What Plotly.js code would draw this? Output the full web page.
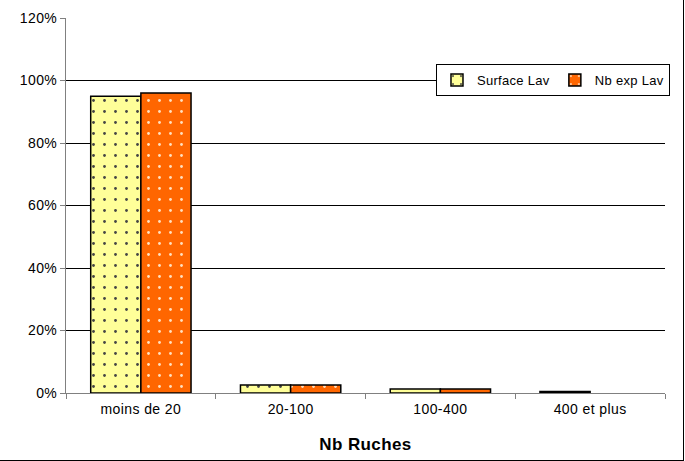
<!DOCTYPE html>
<html>
<head>
<meta charset="utf-8">
<script src="https://cdn.plot.ly/plotly-3.0.1.min.js"></script>
<style>
html,body{margin:0;padding:0;background:#fff;}
#wrap{position:relative;width:685px;height:461px;}
#chart{width:685px;height:461px;}
#frame{position:absolute;left:0;top:0;width:683px;height:460px;border-right:1px solid #000;border-bottom:1px solid #000;pointer-events:none;}
.xtick text, .ytick text {letter-spacing: 0.4px;}
.legendtext {letter-spacing: 0.3px;}
.xtitle {letter-spacing: 0.4px;}
</style>
</head>
<body>
<div id="wrap"><div id="chart"></div><div id="frame"></div></div>
<script>
var categories = ["moins de 20", "20-100", "100-400", "400 et plus"];
var surfaceLav = [0.95, 0.026, 0.013, 0.005];
var nbExpLav = [0.96, 0.026, 0.013, null];
var yTickVals = [0, 0.2, 0.4, 0.6, 0.8, 1.0, 1.2];
var yTickText = ["0%", "20%", "40%", "60%", "80%", "100%", "120%"];

var font = "'Liberation Sans', Arial, sans-serif";

var traces = [
  {
    type: "bar", name: "Surface Lav", x: categories, y: surfaceLav,
    marker: {color: "#FFFF99", line: {color: "#000", width: 1.5},
      pattern: {shape: ".", fgcolor: "#444444", bgcolor: "#FFFF99", size: 11, solidity: 0.05}}
  },
  {
    type: "bar", name: "Nb exp Lav", x: categories, y: nbExpLav,
    marker: {color: "#FF6600", line: {color: "#000", width: 1.5},
      pattern: {shape: ".", fgcolor: "#FFE0C0", bgcolor: "#FF6600", size: 11, solidity: 0.05}}
  }
];

var layout = {
  width: 685, height: 461,
  margin: {l: 66, r: 20, t: 18, b: 68},
  paper_bgcolor: "#fff", plot_bgcolor: "#fff",
  barmode: "group", bargap: 0.33, bargroupgap: 0,
  showlegend: true,
  legend: {
    orientation: "h", x: 0.813, y: 0.877, xanchor: "center", yanchor: "top",
    bgcolor: "#fff", bordercolor: "#000", borderwidth: 1,
    font: {family: font, size: 13, color: "#000"},
    itemwidth: 30, tracegroupgap: 0
  },
  xaxis: {
    type: "category", tickson: "boundaries", ticks: "outside", ticklen: 5,
    tickcolor: "#808080", showline: true, linecolor: "#808080", linewidth: 1,
    showgrid: false, zeroline: false, ticklabelstandoff: 3,
    tickfont: {family: font, size: 14, color: "#000"},
    title: {text: "<b>Nb Ruches</b>", font: {family: font, size: 17, color: "#000"}, standoff: 22}
  },
  yaxis: {
    range: [0, 1.2], tickvals: yTickVals, ticktext: yTickText,
    ticks: "outside", ticklen: 5, tickcolor: "#808080",
    showline: true, linecolor: "#808080", linewidth: 1,
    showgrid: true, gridcolor: "#000", gridwidth: 1, zeroline: false,
    tickfont: {family: font, size: 14, color: "#000"}
  }
};

Plotly.newPlot("chart", traces, layout, {displayModeBar: false, staticPlot: true});
</script>
</body>
</html>
